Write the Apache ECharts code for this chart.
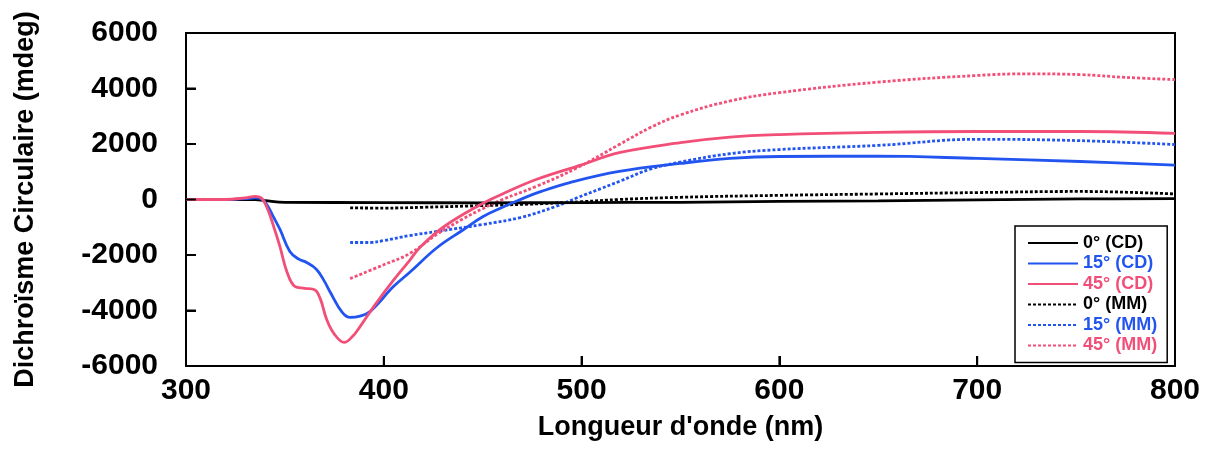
<!DOCTYPE html>
<html>
<head>
<meta charset="utf-8">
<script src="https://cdn.jsdelivr.net/npm/echarts@6/dist/echarts.min.js"></script>
<style>
html,body{margin:0;padding:0;background:#fff;}
#chart{width:1215px;height:449px;}
</style>
</head>
<body>
<div id="chart"></div>
<script>
// Wavelengths (nm) and values (mdeg)
const cd0X = [300, 335, 340, 350, 400, 450, 500, 550, 600, 650, 700, 752, 800];
const cd0Y = [0, 0, -40, -100, -110, -120, -110, -100, -70, -50, -10, 20, 30];

const cd15X = [300, 320, 330, 335, 338, 341, 344, 347.5, 352.5, 357, 361, 366, 370, 373, 379, 383, 388, 393, 405, 413, 427, 440, 450, 460, 469, 480, 494, 519, 550, 575, 600, 650, 700, 752, 800];
const cd15Y = [0, 0, 30, 60, 30, -200, -600, -1080, -1870, -2150, -2270, -2520, -2950, -3350, -4070, -4250, -4200, -4040, -3130, -2630, -1730, -1100, -620, -280, 0, 300, 610, 1010, 1300, 1480, 1550, 1560, 1480, 1370, 1240];

const cd45X = [300, 320, 330, 335, 338, 341, 344, 347.5, 351, 355, 360, 365, 368, 371, 375, 380, 384, 388, 395, 405, 413, 418, 430, 449, 460, 477, 500, 519, 550, 575, 600, 650, 700, 752, 800];
const cd45Y = [0, 0, 60, 110, 60, -300, -900, -1700, -2600, -3130, -3200, -3250, -3600, -4300, -4850, -5150, -4950, -4580, -3850, -2900, -2200, -1750, -1000, -180, 200, 720, 1250, 1690, 2050, 2250, 2340, 2420, 2450, 2450, 2380];

const mm0X = [383, 400, 420, 450, 480, 500, 519, 550, 600, 650, 700, 752, 800];
const mm0Y = [-300, -310, -280, -220, -150, -80, 0, 80, 150, 200, 250, 290, 200];

const mm15X = [383, 393, 400, 413, 427, 450, 469, 487, 498, 510, 519, 535, 550, 575, 600, 650, 700, 752, 800];
const mm15Y = [-1550, -1550, -1480, -1300, -1150, -900, -650, -250, 70, 400, 650, 1100, 1350, 1650, 1800, 1950, 2170, 2120, 1980];

const mm45X = [383, 400, 413, 427, 440, 450, 460, 477, 498, 519, 535, 550, 575, 600, 650, 700, 725, 752, 775, 800];
const mm45Y = [-2850, -2350, -1950, -1250, -700, -330, 0, 470, 1150, 1980, 2600, 3050, 3550, 3850, 4230, 4470, 4530, 4500, 4400, 4320];

const seriesNames = ['0° (CD)', '15° (CD)', '45° (CD)', '0° (MM)', '15° (MM)', '45° (MM)'];
const xTicks = [300, 400, 500, 600, 700, 800];
const yTicks = [-6000, -4000, -2000, 0, 2000, 4000, 6000];

const BLACK = '#000000', BLUE = '#2255f0', PINK = '#f24f78';
const colors = [BLACK, BLUE, PINK, BLACK, BLUE, PINK];
const xs = [cd0X, cd15X, cd45X, mm0X, mm15X, mm45X];
const ys = [cd0Y, cd15Y, cd45Y, mm0Y, mm15Y, mm45Y];

const zip = (a, b) => a.map((v, i) => [v, b[i]]);
const FONT = '"Liberation Sans", Arial, sans-serif';
const X_MIN = xTicks[0], X_MAX = xTicks[xTicks.length - 1];
const Y_MIN = yTicks[0], Y_MAX = yTicks[yTicks.length - 1];
// tick lengths expressed in axis units (about 10 px each)
const X_TICK_LEN = 360;   // mdeg, for the ticks on the bottom axis
const Y_TICK_LEN = 5;     // nm, for the ticks on the left axis

const series = seriesNames.map((name, i) => ({
  name: name,
  type: 'line',
  data: zip(xs[i], ys[i]),
  smooth: 0.4,
  symbol: 'none',
  showSymbol: false,
  z: i < 3 ? 3 : 2,
  lineStyle: {
    color: colors[i],
    width: 2.8,
    type: i < 3 ? 'solid' : [3, 2]
  },
  itemStyle: { color: colors[i] }
}));

// inward tick marks as broken line segments, one per tick value
const tickData = [];
xTicks.slice(1, -1).forEach(v => {
  tickData.push([v, Y_MIN], [v, Y_MIN + X_TICK_LEN], ['-', '-']);
});
yTicks.slice(1, -1).forEach(v => {
  tickData.push([X_MIN, v], [X_MIN + Y_TICK_LEN, v], ['-', '-']);
});
series.push({
  name: 'ticks',
  type: 'line',
  data: tickData,
  connectNulls: false,
  symbol: 'none',
  showSymbol: false,
  silent: true,
  z: 6,
  lineStyle: { color: '#000', width: 2 },
  itemStyle: { color: '#000' }
});

const lineSt = { color: '#000', width: 2 };
const labelSt = { fontFamily: FONT, fontSize: 30, fontWeight: 'bold', color: '#000' };
const nameSt = { fontFamily: FONT, fontSize: 27, fontWeight: 'bold', color: '#000' };

const chart = echarts.init(document.getElementById('chart'), null, { renderer: 'canvas' });
chart.setOption({
  animation: false,
  backgroundColor: '#fff',
  tooltip: { show: false },
  grid: { left: 186, right: 40, top: 33, bottom: 83, show: true, borderColor: '#000', borderWidth: 2 },
  xAxis: {
    type: 'value', position: 'bottom',
    min: X_MIN, max: X_MAX, interval: 100,
    name: "Longueur d'onde (nm)",
    nameLocation: 'middle', nameGap: 48, nameTextStyle: nameSt,
    axisLine: { show: true, onZero: false, lineStyle: lineSt },
    axisTick: { show: true, inside: true, length: 10, lineStyle: lineSt },
    axisLabel: Object.assign({ margin: 10, formatter: v => String(v) }, labelSt),
    splitLine: { show: false }
  },
  yAxis: {
    type: 'value', position: 'left',
    min: Y_MIN, max: Y_MAX, interval: 2000,
    name: 'Dichroïsme Circulaire (mdeg)',
    nameLocation: 'middle', nameGap: 147, nameTextStyle: nameSt,
    axisLine: { show: true, onZero: false, lineStyle: lineSt },
    axisTick: { show: true, inside: true, length: 10, lineStyle: lineSt },
    axisLabel: Object.assign({ margin: 28, formatter: v => String(v) }, labelSt),
    splitLine: { show: false }
  },
  legend: {
    orient: 'vertical',
    left: 1015, top: 226,
    padding: [7, 10, 7, 12],
    backgroundColor: '#fff',
    borderColor: '#000', borderWidth: 1.5,
    itemWidth: 50, itemHeight: 14, itemGap: 0.5,
    itemStyle: { opacity: 0 },
    textStyle: { fontFamily: FONT, fontSize: 18, fontWeight: 'bold', lineHeight: 20 },
    data: seriesNames.map((n, i) => ({ name: n, textStyle: { color: colors[i] } }))
  },
  series: series
});
</script>
</body>
</html>
